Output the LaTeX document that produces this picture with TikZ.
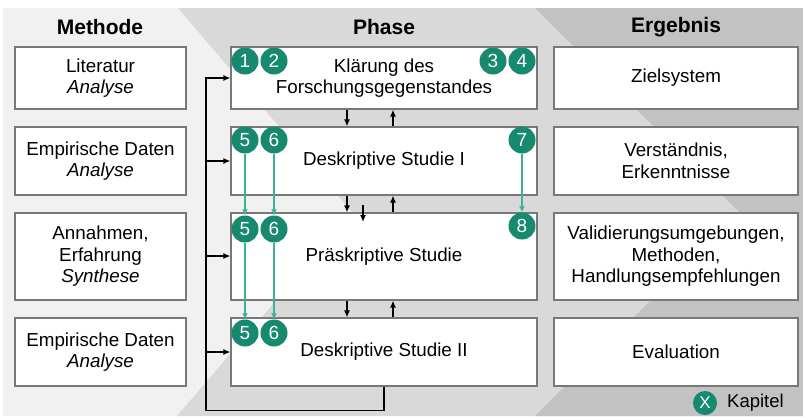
\documentclass[tikz,border=0pt]{standalone}
\usepackage{fontspec}
\setmainfont{Liberation Sans}
\usetikzlibrary{arrows.meta}
\definecolor{panelA}{RGB}{241,241,241}
\definecolor{panelB}{RGB}{217,217,217}
\definecolor{panelC}{RGB}{194,194,194}
\definecolor{chap}{RGB}{22,137,110}
\definecolor{chapline}{RGB}{62,178,152}
\definecolor{frame}{RGB}{120,120,120}

\begin{document}
\begin{tikzpicture}[x=1pt,y=-1pt,
  box/.style={draw=frame,line width=1.1pt,fill=white,align=center,inner sep=0pt,
    font=\fontsize{18.8}{21.5}\selectfont},
  mbox/.style={box,minimum width=171pt},
  pbox/.style={box,minimum width=306pt},
  ebox/.style={box,minimum width=244pt},
  head/.style={font=\fontsize{21}{24}\selectfont\bfseries},
  chapter/.style={circle,fill=chap,text=white,minimum size=27pt,inner sep=0pt,
    font=\fontsize{19}{19}\selectfont},
  flow/.style={line width=1.6pt,-{Latex[length=7pt,width=6pt]}},
  link/.style={draw=chapline,line width=1.5pt,-{Latex[length=6pt,width=6pt]}},
]
\useasboundingbox (0,0) rectangle (803,416);

% background bands
\fill[panelA] (3,8) rectangle (803,416);
\fill[panelB] (178,8) -- (803,8) -- (803,416) -- (177,416) -- (352,212) -- cycle;
\fill[panelC] (535,8) -- (803,8) -- (803,416) -- (535,416) -- (739,212) -- cycle;

% column headings
\node[head] (hm) at (100,27) {Methode};
\node[head] (hp) at (384,27) {Phase};
\node[head] (he) at (676,27) {Ergebnis};

% method column
\node[mbox,minimum height=62pt] (m1) at (100.5,78) {Literatur\\\textit{Analyse}};
\node[mbox,minimum height=68pt] (m2) at (100.5,161) {Empirische Daten\\\textit{Analyse}};
\node[mbox,minimum height=87pt] (m3) at (100.5,256.5) {Annahmen,\\Erfahrung\\\textit{Synthese}};
\node[mbox,minimum height=68pt] (m4) at (100.5,352) {Empirische Daten\\\textit{Analyse}};

% phase column
\node[pbox,minimum height=62pt] (p1) at (384,78) {Klärung des\\Forschungsgegenstandes};
\node[pbox,minimum height=68pt] (p2) at (384,161) {Deskriptive Studie I};
\node[pbox,minimum height=87pt] (p3) at (384,256.5) {Präskriptive Studie};
\node[pbox,minimum height=68pt] (p4) at (384,352) {Deskriptive Studie II};

% result column
\node[ebox,minimum height=62pt] (e1) at (676,78) {Zielsystem};
\node[ebox,minimum height=68pt] (e2) at (676,161) {Verständnis,\\Erkenntnisse};
\node[ebox,minimum height=87pt] (e3) at (676,256.5) {Validierungsumgebungen,\\Methoden,\\Handlungsempfehlungen};
\node[ebox,minimum height=68pt] (e4) at (676,352) {Evaluation};

% transitions between phases
\foreach \a/\b in {p1/p2,p2/p3,p3/p4}{
  \draw[flow] ([xshift=-37pt]\a.south) -- ([xshift=-37pt]\b.north);
  \draw[flow] ([xshift=9pt]\b.north) -- ([xshift=9pt]\a.south);
}
\coordinate (s1) at (363,205);
\coordinate (s2) at (363,222);
\draw[flow] (s1) -- (s2);

% feedback rail back into every phase
\coordinate (rail) at (206,0);
\draw[flow] (p4.south) -- ++(0,24) -| (rail |- p1.west) -- (p1.west);
\draw[flow] (rail |- p2.west) -- (p2.west);
\draw[flow] ([yshift=0.5pt]rail |- p3.west) -- ([yshift=0.5pt]p3.west);
\draw[flow] (rail |- p4.west) -- (p4.west);

% chapter markers
\node[chapter] (c1) at (245,61) {1};
\node[chapter] (c2) at (274,61) {2};
\node[chapter] (c3) at (493,61) {3};
\node[chapter] (c4) at (522,61) {4};
\node[chapter] (c5a) at (245,140) {5};
\node[chapter] (c6a) at (274,140) {6};
\node[chapter] (c7) at (522,140) {7};
\node[chapter] (c5b) at (245,229) {5};
\node[chapter] (c6b) at (274,229) {6};
\node[chapter] (c8) at (522,226) {8};
\node[chapter] (c5c) at (245,333) {5};
\node[chapter] (c6c) at (274,333) {6};

\draw[link] (c5a) -- (c5b);
\draw[link] (c5b) -- (c5c);
\draw[link] (c6a) -- (c6b);
\draw[link] (c6b) -- (c6c);
\draw[link] (c7) -- (c8);

% legend
\node[chapter,minimum size=24pt,font=\fontsize{17}{17}\selectfont] (kx) at (705,403) {X};
\node[anchor=west,inner sep=0pt,font=\fontsize{18.5}{18.5}\selectfont] (kl) at (727,403) {Kapitel};
\end{tikzpicture}
\end{document}
